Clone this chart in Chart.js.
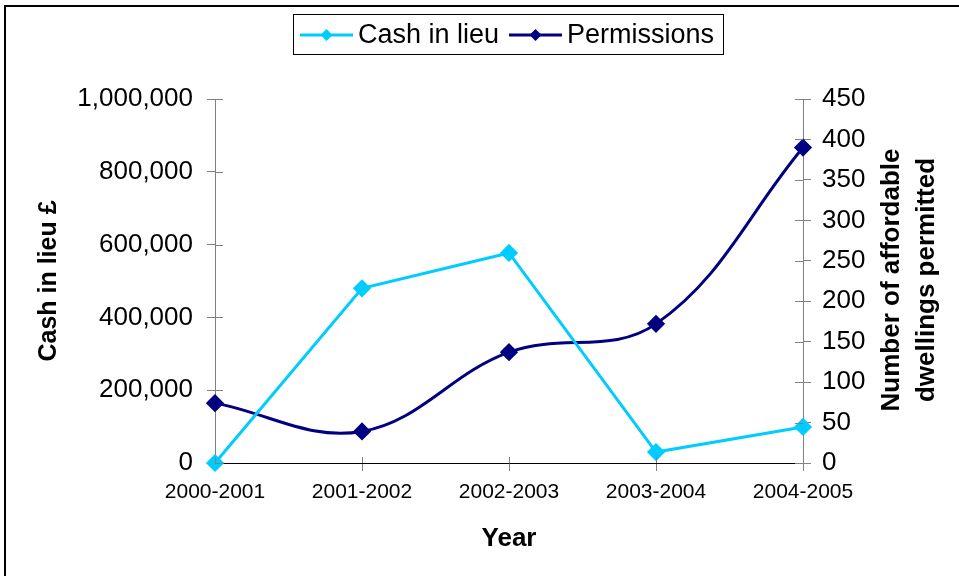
<!DOCTYPE html>
<html>
<head>
<meta charset="utf-8">
<script src="https://cdn.jsdelivr.net/npm/chart.js@4.4.0/dist/chart.umd.min.js"></script>
<style>
  html, body { margin: 0; padding: 0; background: #fff; }
</style>
</head>
<body>
<canvas id="myChart" width="959" height="576"></canvas>
<script>
// data
const years = ["2000-2001", "2001-2002", "2002-2003", "2003-2004", "2004-2005"];
const cashInLieu = [0, 480000, 577000, 30000, 99000];
const permissions = [74, 39, 137, 172, 390];

const cashAxis = { min: 0, max: 1000000, step: 200000 };
const dwellingsAxis = { min: 0, max: 450, step: 50 };

const rightTitle = ["Number of affordable", "dwellings permitted"];

const cyan = "#00CCFF";
const navy = "#000080";
const fontFamily = "'Liberation Sans', Arial, sans-serif";

Chart.defaults.font.family = fontFamily;
Chart.defaults.color = "#000";

// outer frame (only top and left edges show in the picture)
const framePlugin = {
  id: "frame",
  afterDraw(chart) {
    const ctx = chart.ctx;
    ctx.save();
    ctx.strokeStyle = "#000";
    ctx.lineWidth = 2;
    ctx.beginPath();
    ctx.moveTo(5, 576);
    ctx.lineTo(5, 6);
    ctx.lineTo(959, 6);
    ctx.stroke();
    ctx.restore();
  },
};

// ticks crossing the axes, like Excel draws them
const crossTicks = {
  id: "crossTicks",
  afterDatasetsDraw(chart) {
    const ctx = chart.ctx;
    const left = chart.scales.y;
    const right = chart.scales.y2;
    const x = chart.scales.x;
    ctx.save();
    ctx.lineWidth = 1;
    ctx.strokeStyle = "#808080";
    ctx.beginPath();
    left.ticks.forEach((t) => {
      const py = Math.round(left.getPixelForValue(t.value)) + 0.5;
      ctx.moveTo(left.right, py);
      ctx.lineTo(left.right + 8, py);
    });
    right.ticks.forEach((t) => {
      const py = Math.round(right.getPixelForValue(t.value)) + 0.5;
      ctx.moveTo(right.left - 8, py);
      ctx.lineTo(right.left, py);
    });
    x.ticks.forEach((t, i) => {
      const px = Math.round(x.getPixelForValue(i)) + 0.5;
      ctx.moveTo(px, x.top - 6);
      ctx.lineTo(px, x.top);
    });
    ctx.stroke();
    ctx.restore();
  },
};

// right axis title reads bottom to top
const rightTitlePlugin = {
  id: "rightTitle",
  afterDraw(chart) {
    const ctx = chart.ctx;
    ctx.save();
    ctx.translate(910, 280);
    ctx.rotate(-Math.PI / 2);
    ctx.font = "bold 26px " + fontFamily;
    ctx.fillStyle = "#000";
    ctx.textAlign = "center";
    ctx.textBaseline = "middle";
    ctx.fillText(rightTitle[0], 0, -18);
    ctx.fillText(rightTitle[1], 0, 17);
    ctx.restore();
  },
};

// boxed legend at the top
const legendBox = {
  id: "legendBox",
  afterDraw(chart) {
    const ctx = chart.ctx;
    ctx.save();
    ctx.strokeStyle = "#000";
    ctx.lineWidth = 1;
    ctx.strokeRect(293.5, 14.5, 430, 40);
    ctx.font = "27px " + fontFamily;
    ctx.textBaseline = "middle";
    ctx.fillStyle = "#000";
    const starts = [300, 509];
    chart.data.datasets.forEach((ds, i) => {
      const x0 = starts[i];
      const cy = 35;
      ctx.strokeStyle = ds.borderColor;
      ctx.lineWidth = 3;
      ctx.beginPath();
      ctx.moveTo(x0, cy);
      ctx.lineTo(x0 + 53, cy);
      ctx.stroke();
      ctx.fillStyle = ds.borderColor;
      ctx.beginPath();
      ctx.moveTo(x0 + 26.5, cy - 6);
      ctx.lineTo(x0 + 32.5, cy);
      ctx.lineTo(x0 + 26.5, cy + 6);
      ctx.lineTo(x0 + 20.5, cy);
      ctx.closePath();
      ctx.fill();
      ctx.fillStyle = "#000";
      ctx.fillText(ds.label, x0 + 58, cy + 1);
    });
    ctx.restore();
  },
};

const myChart = new Chart("myChart", {
  type: "line",
  data: {
    labels: years,
    datasets: [
      {
        label: "Cash in lieu",
        data: cashInLieu,
        yAxisID: "y",
        borderColor: cyan,
        backgroundColor: cyan,
        borderWidth: 3,
        tension: 0,
        pointStyle: "rectRot",
        pointRadius: 7,
        pointHoverRadius: 7,
        clip: false,
      },
      {
        label: "Permissions",
        data: permissions,
        yAxisID: "y2",
        borderColor: navy,
        backgroundColor: navy,
        borderWidth: 3,
        tension: 0.38,
        pointStyle: "rectRot",
        pointRadius: 7,
        pointHoverRadius: 7,
        clip: false,
      },
    ],
  },
  options: {
    responsive: false,
    devicePixelRatio: 1,
    animation: false,
    layout: { padding: { top: 99, left: 0, right: 0, bottom: 0 } },
    plugins: {
      legend: { display: false },
      tooltip: { enabled: false },
    },
    scales: {
      x: {
        type: "category",
        offset: false,
        border: { color: "#000", width: 1 },
        grid: { drawOnChartArea: false, tickLength: 8, color: "#808080" },
        ticks: { font: { size: 21 }, padding: 9, maxRotation: 0, autoSkip: false },
        title: {
          display: true,
          text: "Year",
          font: { size: 26, weight: "bold" },
          padding: { top: 0, bottom: 22 },
        },
        afterFit(scale) {
          scale.height = 113;
        },
      },
      y: {
        position: "left",
        min: cashAxis.min,
        max: cashAxis.max,
        border: { color: "#808080", width: 1 },
        grid: { drawOnChartArea: false, tickLength: 8, color: "#808080" },
        ticks: {
          stepSize: cashAxis.step,
          font: { size: 26 },
          padding: 14,
          callback: (v) => v.toLocaleString("en-US"),
        },
        title: {
          display: true,
          text: "Cash in lieu £",
          font: { size: 25, weight: "bold" },
          padding: { top: 34, bottom: 0 },
        },
        afterFit(scale) {
          scale.width = 215;
        },
      },
      y2: {
        position: "right",
        min: dwellingsAxis.min,
        max: dwellingsAxis.max,
        border: { color: "#808080", width: 1 },
        grid: { drawOnChartArea: false, tickLength: 8, color: "#808080" },
        ticks: { stepSize: dwellingsAxis.step, font: { size: 26 }, padding: 11 },
        afterFit(scale) {
          scale.width = 156;
        },
      },
    },
  },
  plugins: [framePlugin, crossTicks, rightTitlePlugin, legendBox],
});
</script>
</body>
</html>
